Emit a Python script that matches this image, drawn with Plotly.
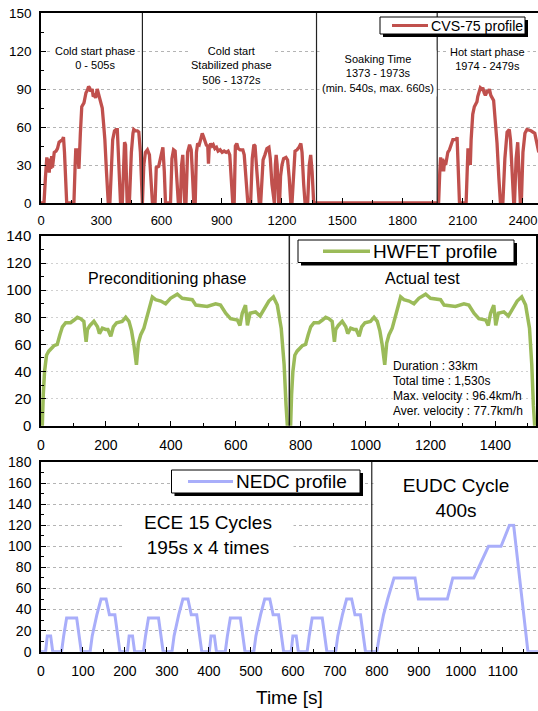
import plotly.graph_objects as go

# ---------------- data ----------------
# CVS-75 (FTP-75) profile, time [s] and speed [km/h]
cvs_t = [0, 15, 22, 29, 33, 37, 41, 45, 49, 53, 57, 61, 66, 75, 82, 90, 100, 107, 112, 117, 128,
         164, 170, 173, 181, 185, 189, 196, 203, 214, 224, 231, 237, 242, 248, 255, 260, 267, 272, 280, 289, 300, 305, 312, 318, 326, 335,
         343, 350, 357, 366, 373, 380, 386, 396,
         405, 411, 416, 421, 425, 429,
         440, 450, 458, 462, 470, 480, 487, 495, 505,
         512, 520, 530, 540, 548, 555,
         568, 574, 586, 594, 600, 607, 614, 620,
         645, 652, 660, 668, 676, 684,
         694, 700, 706, 712, 716,
         722, 730, 740, 748, 755, 761,
         768, 774, 780, 788, 795, 803, 810, 818, 825, 830, 834, 838, 845, 852, 858, 866, 874, 882, 892, 902, 912, 922, 932, 940, 948, 955,
         962, 968, 975, 982, 992, 1005, 1012, 1022, 1030,
         1044, 1052, 1060, 1066, 1075, 1087,
         1094, 1100, 1106, 1115, 1125, 1135, 1142, 1150, 1158,
         1162, 1167, 1171, 1176, 1183,
         1188, 1193, 1200, 1208, 1220, 1228, 1236, 1244,
         1250, 1258, 1265, 1275, 1285, 1294, 1300, 1308, 1315,
         1328, 1336, 1343, 1350, 1358, 1372,
         1973, 1980, 1986, 1990, 1995, 2000, 2005, 2010, 2015, 2021, 2026, 2034, 2040, 2051, 2060, 2068, 2072, 2078, 2084,
         2117, 2122, 2126, 2134, 2138, 2142, 2150, 2158, 2165, 2171, 2175, 2182, 2188, 2195, 2200, 2207, 2213, 2216, 2222, 2228, 2233, 2240, 2248, 2254, 2262, 2271, 2280, 2288,
         2300, 2310, 2321, 2332, 2338, 2346, 2354,
         2358, 2366, 2374, 2380, 2387,
         2392, 2400, 2410, 2420, 2440, 2459, 2479]
cvs_v = [0, 0, 20, 36, 26, 35, 24, 33, 27, 37, 28, 35, 40, 41, 43, 48, 49, 50, 52, 40, 0,
         0, 30, 42, 42, 35, 27, 55, 76, 79, 87, 89, 92, 91, 88, 90, 84, 85, 83, 90, 84, 77, 75, 62, 50, 25, 0,
         0, 30, 50, 57, 58, 58, 40, 0,
         0, 30, 48, 46, 25, 0,
         0, 40, 55, 58, 57, 57, 56, 40, 0,
         30, 40, 42, 38, 20, 0,
         0, 28, 29, 35, 38, 44, 25, 0,
         0, 35, 42, 41, 20, 0,
         0, 30, 38, 20, 0,
         0, 40, 46, 42, 20, 0,
         0, 40, 47, 46, 50, 55, 52, 47, 45, 46, 31, 44, 47, 45, 46, 43, 44, 41, 42, 40, 41, 40, 41, 38, 20, 0,
         0, 45, 47, 43, 42, 42, 38, 15, 0,
         0, 35, 46, 45, 25, 0,
         0, 25, 34, 38, 43, 44, 35, 15, 0,
         0, 30, 38, 30, 0,
         0, 21, 30, 35, 36, 34, 20, 0,
         0, 30, 41, 42, 44, 47, 40, 15, 0,
         0, 30, 38, 25, 0, 0,
         0, 0, 25, 36, 25, 35, 25, 34, 30, 38, 40, 42, 45, 50, 50, 50, 52, 30, 0,
         0, 30, 42, 42, 30, 50, 70, 76, 78, 80, 84, 88, 91, 90, 91, 87, 85, 86, 89, 87, 90, 85, 82, 81, 65, 47, 20, 0,
         0, 35, 56, 58, 50, 20, 0,
         0, 35, 48, 30, 0,
         0, 40, 55, 58, 57, 55, 40]

# HWFET profile (preconditioning run + actual test)
hw_t = [0, 4, 7, 11, 17, 24, 40, 50, 58, 66, 76, 91, 102, 112, 122, 132, 139, 143, 151, 163, 174, 180, 189, 199, 206, 215,
        223, 233, 250, 261, 271, 279, 286, 294, 300, 307, 317, 325, 335, 343, 353, 369, 384, 399, 420, 435, 466, 477, 512,
        538, 553, 569, 584, 605, 613, 620, 630, 636, 644, 661, 675, 687, 702, 716, 728, 740, 749, 755, 759,
        765, 769, 772, 776, 782, 789, 805, 815, 823, 831, 841, 856, 867, 877, 887, 897, 904, 908, 916, 928, 939, 945, 954,
        964, 971, 980, 988, 998, 1015, 1026, 1036, 1044, 1051, 1059, 1065, 1072, 1082, 1090, 1100, 1108, 1118, 1134, 1149,
        1164, 1185, 1200, 1231, 1242, 1277, 1303, 1318, 1334, 1349, 1370, 1378, 1385, 1395, 1401, 1409, 1426, 1440, 1452,
        1467, 1481, 1493, 1505, 1512, 1517, 1521, 1530]
hw_v = [0, 0, 23, 40, 52, 55, 59, 60, 67, 73, 76, 76, 78, 80, 79, 77, 62, 71, 74, 77, 73, 68, 72, 71, 71, 66,
        73, 76, 77, 80, 77, 70, 60, 45, 61, 67, 72, 79, 89, 95, 93, 92, 90, 94, 97, 94, 93, 89, 88,
        90, 89, 83, 79, 78, 74, 83, 89, 74, 83, 84, 81, 86, 92, 95, 89, 72, 45, 15, 0,
        0, 0, 23, 40, 52, 55, 59, 60, 67, 73, 76, 76, 78, 80, 79, 77, 62, 71, 74, 77, 73, 68, 72,
        71, 71, 66, 73, 76, 77, 80, 77, 70, 60, 45, 61, 67, 72, 79, 89, 95, 93, 92, 90,
        94, 97, 94, 93, 89, 88, 90, 89, 83, 79, 78, 74, 83, 89, 74, 83, 84, 81, 86,
        92, 95, 89, 72, 45, 15, 0, 0]

# NEDC profile: 4 x ECE-15 urban cycles + EUDC
nedc_t = [0, 11, 15, 23, 28, 49, 54, 61, 85, 96, 117, 122, 133, 143, 155, 163, 176, 188,
          195, 206, 210, 218, 223, 244, 249, 256, 280, 291, 312, 317, 328, 338, 350, 358, 371, 383,
          390, 401, 405, 413, 418, 439, 444, 451, 475, 486, 507, 512, 523, 533, 545, 553, 566, 578,
          585, 596, 600, 608, 613, 634, 639, 646, 670, 681, 702, 707, 718, 728, 740, 748, 761, 773,
          780, 800, 806, 816, 826, 841, 891, 899, 968, 981, 1031, 1066, 1096, 1116, 1126, 1160, 1190]
nedc_v = [0, 0, 15, 15, 0, 0, 15, 32, 32, 0, 0, 15, 35, 50, 50, 35, 35, 0,
          0, 0, 15, 15, 0, 0, 15, 32, 32, 0, 0, 15, 35, 50, 50, 35, 35, 0,
          0, 0, 15, 15, 0, 0, 15, 32, 32, 0, 0, 15, 35, 50, 50, 35, 35, 0,
          0, 0, 15, 15, 0, 0, 15, 32, 32, 0, 0, 15, 35, 50, 50, 35, 35, 0,
          0, 0, 15, 35, 50, 70, 70, 50, 50, 70, 70, 100, 100, 120, 120, 0, 0]

cvs_phase_bounds = [505, 1372, 1973]
hw_phase_bounds = [765]
nedc_phase_bounds = [788]

cvs_xticks = [0, 300, 600, 900, 1200, 1500, 1800, 2100, 2400]
hw_xticks = [0, 200, 400, 600, 800, 1000, 1200, 1400]
nedc_xticks = [0, 100, 200, 300, 400, 500, 600, 700, 800, 900, 1000, 1100]

# ---------------- layout helpers ----------------
W, H, L = 538, 711, 41
def px(x):
    return (x - L) / (W - L)
def py(y):
    return (H - y) / H

FONT = "Liberation Sans, Arial, sans-serif"
RED, GREEN, BLUE = "#c0504d", "#9bbb59", "#a9aefa"

fig = go.Figure()
fig.add_trace(go.Scatter(x=cvs_t, y=cvs_v, mode="lines", name="CVS-75 profile", showlegend=False,
                         line=dict(color=RED, width=3.3), xaxis="x", yaxis="y"))
fig.add_trace(go.Scatter(x=hw_t, y=hw_v, mode="lines", name="HWFET profile", showlegend=False,
                         line=dict(color=GREEN, width=3.5), xaxis="x2", yaxis="y2"))
fig.add_trace(go.Scatter(x=nedc_t, y=nedc_v, mode="lines", name="NEDC profile", showlegend=False,
                         line=dict(color=BLUE, width=3), xaxis="x3", yaxis="y3"))

def xax(rng, tickvals, minor, anchor, fs, standoff, domain=(0, 1)):
    return dict(domain=list(domain), range=rng, anchor=anchor, tickvals=tickvals, ticks="inside", ticklen=5,
                tickcolor="black", tickwidth=1, minor=dict(dtick=minor, tick0=0, ticks="inside", ticklen=3,
                                                           tickcolor="black", showgrid=False),
                showline=True, linecolor="black", linewidth=1.5, mirror=True, showgrid=False, zeroline=False,
                tickfont=dict(size=fs, color="black", family=FONT), ticklabelstandoff=standoff,
                ticklabeloverflow="allow", automargin=False)

def yax(rng, dtick, minor, anchor, domain, fs, griddash, gridcolor, mirror):
    return dict(domain=domain, range=rng, anchor=anchor, dtick=dtick, tick0=0, ticks="inside", ticklen=5,
                tickcolor="black", tickwidth=1, minor=dict(dtick=minor, tick0=0, ticks="inside", ticklen=3,
                                                           tickcolor="black", showgrid=False),
                showline=True, linecolor="black", linewidth=1.5, mirror=mirror, showgrid=True,
                gridcolor=gridcolor, griddash=griddash, gridwidth=1, zeroline=False,
                tickfont=dict(size=fs, color="black", family=FONT), ticklabelstandoff=5,
                ticklabeloverflow="allow", automargin=False)

dom1 = [py(203), py(13)]
dom2 = [py(425.7), py(236)]
dom3 = [py(651.7), py(462)]

layout = dict(
    width=W, height=H, margin=dict(l=L, r=0, t=0, b=0, pad=0, autoexpand=False),
    plot_bgcolor="white", paper_bgcolor="white", showlegend=False,
    xaxis=xax([0, 2475], cvs_xticks, 150, "y", 13, 5),
    yaxis=yax([0, 150], 30, 15, "x", dom1, 13.5, "3px,3px", "#b4b4b4", False),
    xaxis2=xax([0, 1525], hw_xticks, 100, "y2", 14, 6, domain=(0, px(536))),
    yaxis2=yax([0, 140], 20, 10, "x2", dom2, 15, "2px,3px", "#d0d0d0", True),
    xaxis3=xax([0, 1184], nedc_xticks, 50, "y3", 14, 6),
    yaxis3=yax([0, 180], 20, 10, "x3", dom3, 14, "3px,3px", "#b4b4b4", False),
)
fig.update_layout(**layout)

shapes = []
for b in cvs_phase_bounds:
    shapes.append(dict(type="line", xref="x", yref="y domain", x0=b, x1=b, y0=0, y1=1,
                       line=dict(color="#222222", width=1.2)))
for b in hw_phase_bounds:
    shapes.append(dict(type="line", xref="x2", yref="y2 domain", x0=b, x1=b, y0=0, y1=1,
                       line=dict(color="#222222", width=1.5)))
for b in nedc_phase_bounds:
    shapes.append(dict(type="line", xref="x3", yref="y3 domain", x0=b, x1=b, y0=0, y1=1,
                       line=dict(color="#222222", width=1.2)))

annotations = []

def legend_box(x0, x1, y0, y1, lx0, lx1, color, lw, text, fs):
    shapes.append(dict(type="rect", xref="paper", yref="paper", x0=px(x0 + 3), x1=px(x1 + 3),
                       y0=py(y1 + 3), y1=py(y0 + 3), fillcolor="black", line=dict(width=0), layer="above"))
    shapes.append(dict(type="rect", xref="paper", yref="paper", x0=px(x0), x1=px(x1), y0=py(y1), y1=py(y0),
                       fillcolor="white", line=dict(color="black", width=1), layer="above"))
    yc = (y0 + y1) / 2
    shapes.append(dict(type="line", xref="paper", yref="paper", x0=px(lx0), x1=px(lx1), y0=py(yc), y1=py(yc),
                       line=dict(color=color, width=lw), layer="above"))
    annotations.append(dict(xref="paper", yref="paper", x=px(lx1 + 1), y=py(yc), text=text, showarrow=False,
                            xanchor="left", yanchor="middle", font=dict(size=fs, color="black", family=FONT)))

legend_box(380, 525, 17, 34, 392, 428, RED, 3, "CVS-75 profile", 14.2)
legend_box(298, 514, 240, 262.5, 323, 370, GREEN, 3.5, "HWFET profile", 19)
legend_box(171.5, 360, 470, 493, 188, 233, BLUE, 3, "NEDC profile", 19)

def label(x, y, text, fs, bg=None, width=None, xanchor="center"):
    a = dict(xref="paper", yref="paper", x=px(x), y=py(y), text=text, showarrow=False, xanchor=xanchor,
             yanchor="middle", font=dict(size=fs, color="black", family=FONT), align="center")
    if bg:
        a["bgcolor"] = bg
        a["borderpad"] = 2
    if width:
        a["width"] = width
    annotations.append(a)

# top panel phase labels
label(95, 58.4, "Cold start phase<br>0 - 505s", 11, bg="white")
label(231, 65.8, "Cold start<br>Stabilized phase<br>506 - 1372s", 11, bg="white")
label(378, 73.1, "Soaking Time<br>1373 - 1973s<br>(min. 540s, max. 660s)", 11, bg="white")
label(487, 58.7, "Hot start phase<br>1974 - 2479s", 11, bg="white")

# middle panel
label(167, 278, "Preconditioning phase", 16)
label(422, 278, "Actual test", 16)
info = ["Duration : 33km", "Total time : 1,530s", "Max. velocity : 96.4km/h", "Aver. velocity : 77.7km/h"]
for i, s in enumerate(info):
    label(391, 366 + i * 14.9, s, 12, xanchor="left")

# bottom panel
label(208, 535, "ECE 15 Cycles<br>195s x 4 times", 19, bg="white", width=166)
label(455.5, 498.3, "EUDC Cycle<br>400s", 19, bg="white", width=160)

# axis title
label(289, 697, "Time [s]", 19)

fig.update_layout(shapes=shapes, annotations=annotations)
fig.write_html("out.html")
